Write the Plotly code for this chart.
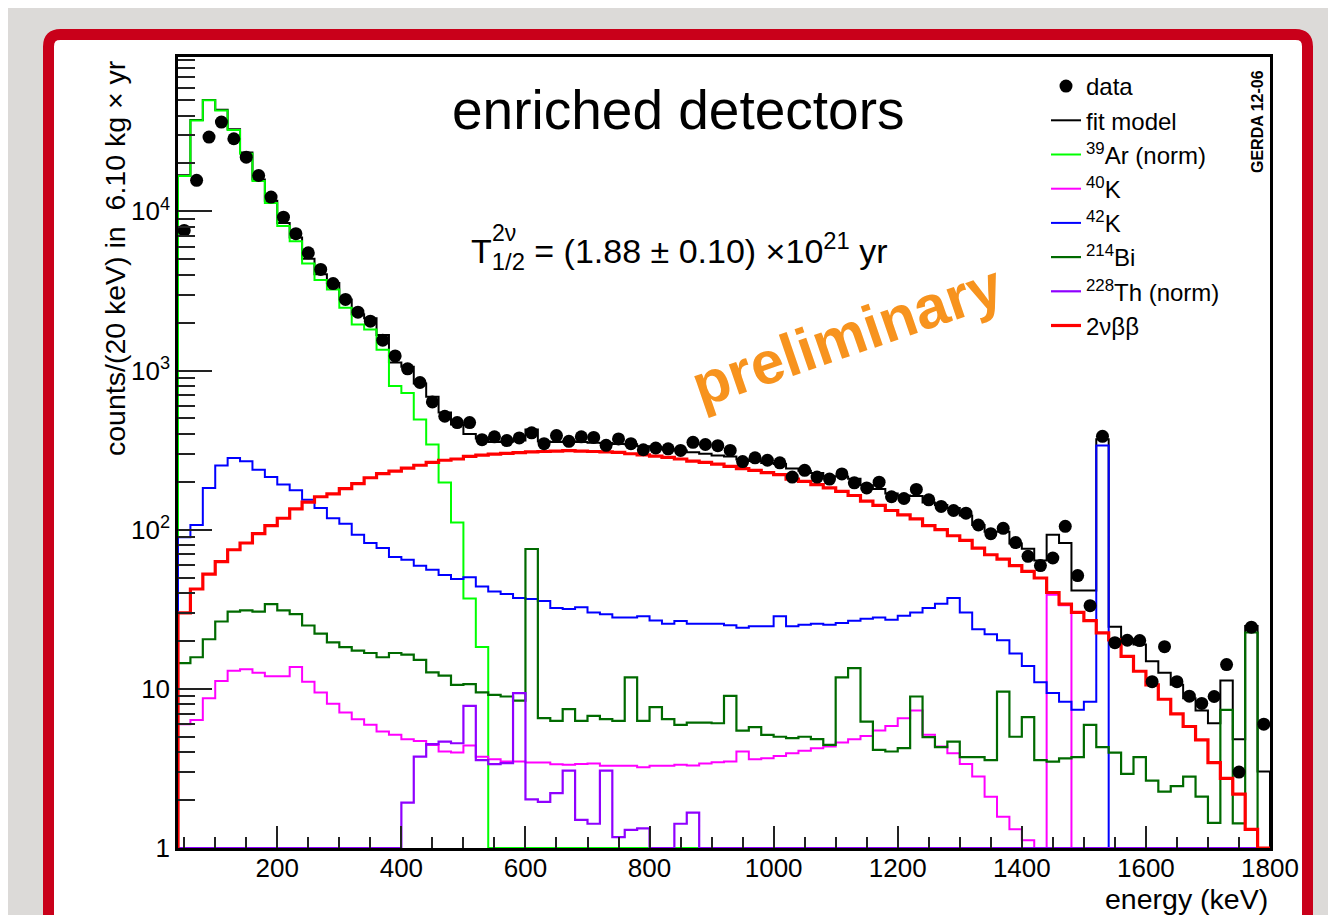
import plotly.graph_objects as go

# ---------------- data (20 keV bins, 40 .. 1800 keV) ----------------
bin_edges = list(range(40, 1801, 20))          # 89 edges -> 88 bins
bin_centers = [e + 10 for e in bin_edges[:-1]]

data_counts = [
    7590, 15670, 29300, 36400, 28600, 21900, 16800, 12300, 9200, 7240,
    5490, 4315, 3520, 2797, 2328, 2042, 1550, 1235, 1025, 841,
    635, 516, 471, 471, 368, 383, 363, 377, 406, 347,
    390, 359, 383, 380, 339, 372, 347, 318, 326, 322,
    315, 354, 343, 337, 315, 268, 283, 273, 263, 214,
    236, 214, 208, 224, 197, 183, 199, 161, 157, 179,
    154, 140, 132, 127, 107, 94.4, 102, 83, 68, 59.5,
    66.4, 105, 51.5, 33.3, 386, 19.5, 20.2, 20.1, 11.1, 18.4,
    11.1, 9.0, 8.1, 8.95, 14.2, 3.0, 24.4, 6.0,
]

fit_model = [
    16850, 37470, 50160, 43450, 32800, 23400, 15880, 11670, 8450, 6860,
    5040, 4030, 3545, 2795, 2257, 2127, 1673, 1122, 1055, 829,
    685, 544, 458, 399, 374, 355, 357, 363, 426, 358,
    356, 360, 356, 352, 350, 345, 344, 334, 328, 320,
    315, 307, 300, 293, 288, 276, 270, 262, 259, 242,
    235, 227, 217, 216, 209, 190, 180, 169, 164, 163,
    148, 143, 137, 123, 107, 97, 97, 82, 76, 64,
    93, 82.5, 41.5, 41.5, 370, 24.6, 20.5, 19.0, 14.9, 12.6,
    10.6, 8.74, 7.3, 6.08, 11.3, 4.83, 24.8, 3.02,
]

ar39 = [
    16700, 37300, 49900, 43100, 32400, 23000, 15500, 11300, 8100, 6500,
    4700, 3700, 3230, 2480, 1946, 1810, 1350, 800, 723, 492,
    343, 198, 111, 37, 18.3, 0, 0, 0, 0, 0,
    0, 0, 0, 0, 0, 0, 0, 0, 0, 0,
    0, 0, 0, 0, 0, 0, 0, 0, 0, 0,
    0, 0, 0, 0, 0, 0, 0, 0, 0, 0,
    0, 0, 0, 0, 0, 0, 0, 0, 0, 0,
    0, 0, 0, 0, 0, 0, 0, 0, 0, 0,
    0, 0, 0, 0, 0, 0, 0, 0,
]

k40 = [
    6.0, 6.38, 8.74, 11.2, 13.0, 13.3, 12.6, 12.0, 12.0, 13.7,
    11.1, 9.48, 8.05, 7.1, 6.45, 5.94, 5.39, 5.14, 4.83, 4.71,
    4.44, 4.04, 3.98, 4.4, 3.75, 3.61, 3.49, 3.49, 3.44, 3.44,
    3.36, 3.33, 3.37, 3.4, 3.29, 3.29, 3.29, 3.22, 3.29, 3.29,
    3.33, 3.3, 3.4, 3.46, 3.5, 4.04, 3.61, 3.67, 3.79, 3.94,
    4.09, 4.24, 4.34, 4.6, 4.83, 5.06, 5.47, 5.85, 6.54, 7.31,
    5.14, 4.34, 3.94, 3.37, 2.81, 2.1, 1.57, 1.31, 1.12, 0,
    39, 33.5, 0, 0, 0, 0, 0, 0, 0, 0,
    0, 0, 0, 0, 0, 0, 0, 0,
]

k42 = [
    89.5, 107, 183, 253, 282, 269, 238, 214, 192, 177,
    154, 137, 118, 109, 93, 82.5, 76.7, 67.3, 64.7, 59.4,
    56, 52, 49, 50.2, 44, 40.9, 39.4, 37.2, 36.7, 35.6,
    32.2, 31.7, 32.6, 30.2, 29.4, 28.1, 28.1, 28.6, 26.9, 25.6,
    26.7, 25.6, 25.6, 25.6, 25.1, 24.2, 24.7, 24.7, 28.6, 24.7,
    25.3, 25.6, 25.3, 25.9, 26.8, 27.6, 28.1, 27.2, 28.8, 30.2,
    32.2, 34.3, 37.2, 30.2, 23.7, 22.0, 20.2, 16.7, 13.9, 11.0,
    9.4, 8.3, 7.4, 8.3, 338, 0, 0, 0, 0, 0,
    0, 0, 0, 0, 0, 0, 0, 0,
]

bi214 = [
    14.5, 15.8, 20.5, 26.5, 30.6, 31.1, 30.6, 34.1, 31.1, 29.5,
    25, 22.2, 19.6, 18.3, 17.4, 16.8, 15.8, 16.8, 16.4, 15.2,
    12.7, 12.1, 10.6, 10.7, 9.5, 9.17, 8.95, 8.44, 75.6, 6.54,
    6.29, 7.45, 6.29, 6.76, 6.45, 6.29, 11.8, 6.29, 7.67, 6.45,
    5.94, 6.14, 6.14, 6.08, 9.03, 5.47, 5.74, 5.14, 5.0, 4.9,
    5.0, 4.83, 4.44, 11.8, 13.5, 6.22, 4.13, 4.04, 4.24, 8.95,
    4.97, 4.3, 4.66, 3.72, 3.72, 3.57, 9.6, 5.0, 6.64, 3.57,
    3.49, 3.66, 3.72, 5.94, 4.3, 3.98, 2.92, 3.72, 2.65, 2.26,
    2.45, 2.81, 2.1, 1.44, 7.38, 1.43, 22.6, 0,
]

th228 = [
    0, 0, 0, 0, 0, 0, 0, 0, 0, 0,
    0, 0, 0, 0, 0, 0, 0, 0, 1.93, 3.75,
    4.49, 4.66, 4.55, 7.82, 3.57, 3.37, 3.41, 9.4, 2.02, 1.95,
    2.21, 3.06, 1.5, 1.42, 3.06, 1.17, 1.3, 1.33, 0, 0,
    1.42, 1.67, 0, 0, 0, 0, 0, 0, 0, 0,
    0, 0, 0, 0, 0, 0, 0, 0, 0, 0,
    0, 0, 0, 0, 0, 0, 0, 0, 0, 0,
    0, 0, 0, 0, 0, 0, 0, 0, 0, 0,
    0, 0, 0, 0, 0, 0, 0, 0,
]

bb2nu = [
    30, 42.4, 52.6, 63, 74.8, 82.5, 94.4, 106, 118, 135,
    149, 161, 168, 181, 195, 212, 225, 233, 244, 254,
    265, 273, 278, 289, 294, 298, 302, 305, 308, 310,
    312, 314, 312, 310, 308, 306, 300, 295, 290, 285,
    278, 270, 265, 258, 250, 242, 236, 228, 222, 208,
    201, 192, 183, 174, 164, 151, 142, 132, 124, 117,
    106, 100, 91.6, 85.6, 76.7, 69.6, 65.4, 59.4, 54.7, 49.7,
    40.3, 34.1, 30.2, 26.8, 22.5, 20.3, 16, 12.9, 10.6, 8.6,
    6.96, 5.8, 4.78, 3.44, 2.74, 2.18, 1.31, 1.0,
]

y_tick_vals = [1, 10, 100, 1000, 10000]
y_tick_text = ["1", "10", "10<sup>2</sup>", "10<sup>3</sup>", "10<sup>4</sup>"]
x_tick_vals = [200, 400, 600, 800, 1000, 1200, 1400, 1600, 1800]

# ---------------- layout geometry ----------------
Y_LOG_MAX = 4.97
Y_MIN = 1.0
W, H = 1336, 915
OFF = 8                      # page body margin offsets the figure by 8 px
PL, PR, PT, PB = 178, 1270, 57, 848          # plot frame in window pixels
ML, MT = PL - OFF, PT - OFF
MR, MB = W - (PR - OFF), H - (PB - OFF)
PW, PH = PR - PL, PB - PT


def step_xy(values):
    """ROOT-like histogram outline: from baseline up, along bins, back down."""
    xs = [bin_edges[0]] + bin_edges[:-1] + [bin_edges[-1]]
    ys = [Y_MIN] + [v if v > 0 else Y_MIN for v in values] + [Y_MIN]
    return xs, ys


def px2paper(px, py):
    return (px - PL) / PW, (PB - py) / PH


FONT = "Liberation Sans, Arial, Helvetica, sans-serif"

fig = go.Figure()

series = [
    ("fit model", fit_model, "#000000", 2.0, 2),
    ("<sup>39</sup>Ar (norm)", ar39, "#00ff00", 2.0, 3),
    ("<sup>40</sup>K", k40, "#ff00ff", 2.0, 4),
    ("<sup>42</sup>K", k42, "#0000ff", 2.0, 5),
    ("<sup>214</sup>Bi", bi214, "#006a00", 2.2, 6),
    ("<sup>228</sup>Th (norm)", th228, "#8f00ff", 2.2, 7),
    ("2νββ", bb2nu, "#ff0000", 3.2, 8),
]
for name, vals, col, lw, rank in series:
    xs, ys = step_xy(vals)
    fig.add_trace(go.Scatter(
        x=xs, y=ys, mode="lines", name=name, line_shape="hv",
        line=dict(color=col, width=lw), legendrank=rank,
        hoverinfo="skip",
    ))

fig.add_trace(go.Scatter(
    x=bin_centers, y=data_counts, mode="markers", name="data",
    marker=dict(color="black", size=13, symbol="circle"),
    legendrank=1,
))

minor_y = [k * 10 ** d for d in range(0, 5) for k in range(2, 10)]

fig.update_xaxes(
    range=[bin_edges[0], bin_edges[-1]],
    tickmode="array", tickvals=x_tick_vals,
    ticks="inside", ticklen=22, tickwidth=1.5, tickcolor="#222",
    minor=dict(dtick=50, tick0=0, ticks="inside", ticklen=11,
               tickwidth=1.5, tickcolor="#222"),
    showline=True, linewidth=2.5, linecolor="black", mirror=True,
    showgrid=False, zeroline=False, ticklabelstandoff=-5,
    tickfont=dict(family=FONT, size=26, color="black"),
)
fig.update_yaxes(
    type="log", range=[0, Y_LOG_MAX],
    tickmode="array", tickvals=y_tick_vals, ticktext=y_tick_text,
    ticks="inside", ticklen=34, tickwidth=1.5, tickcolor="#222",
    minor=dict(tickmode="array", tickvals=minor_y, ticks="inside",
               ticklen=17, tickwidth=1.5, tickcolor="#222"),
    showline=True, linewidth=2.5, linecolor="black", mirror=True,
    showgrid=False, zeroline=False,
    tickfont=dict(family=FONT, size=26, color="black"),
)

# red slide frame (decoration)
fx0, fy0 = px2paper(48.5, 34.5)
fx1, fy1 = px2paper(1307.5, 960)
rx, ry = 12 / PW, 12 / PH
path = (f"M {fx0},{fy1} L {fx0},{fy0 - ry} Q {fx0},{fy0} {fx0 + rx},{fy0} "
        f"L {fx1 - rx},{fy0} Q {fx1},{fy0} {fx1},{fy0 - ry} L {fx1},{fy1} Z")
fig.add_shape(type="path", path=path, xref="paper", yref="paper",
              line=dict(color="#c9001a", width=11), fillcolor="white",
              layer="below")


def note(px, py, text, size, **kw):
    x, y = px2paper(px, py)
    d = dict(x=x, y=y, xref="paper", yref="paper", text=text, showarrow=False,
             font=dict(family=FONT, size=size, color=kw.pop("color", "black")))
    d.update(kw)
    return d


ann = [
    note(678, 110, "enriched detectors", 55, xanchor="center", yanchor="middle"),
    note(469, 251, "T<sub>1/2</sub> = (1.88 ± 0.10) ×10<sup>21</sup> yr", 34,
         xanchor="left", yanchor="middle"),
    note(490, 233, "2ν", 23, xanchor="left", yanchor="middle"),
    note(847, 335, "<b>preliminary</b>", 60, color="#f7931e", textangle=-19,
         xanchor="center", yanchor="middle"),
    note(1257, 122, "<b>GERDA 12-06</b>", 16, textangle=-90,
         xanchor="center", yanchor="middle"),
    note(115, 58, "counts/(20 keV) in  6.10 kg × yr", 28.5, textangle=-90,
         xanchor="center", yanchor="top"),
    note(1270, 899, "energy (keV)", 28.5, xanchor="right", yanchor="middle"),
]

lx, ly = px2paper(1046, 64)
fig.update_layout(
    width=W, height=H,
    margin=dict(l=ML, r=MR, t=MT, b=MB, pad=0),
    paper_bgcolor="#dcdad8", plot_bgcolor="white",
    annotations=ann,
    showlegend=True,
    legend=dict(x=lx, y=ly, xanchor="left", yanchor="top",
                bgcolor="rgba(0,0,0,0)", borderwidth=0,
                font=dict(family=FONT, size=24, color="black"),
                itemwidth=30, tracegroupgap=0),
    font=dict(family=FONT),
)

fig.write_html("out.html")
